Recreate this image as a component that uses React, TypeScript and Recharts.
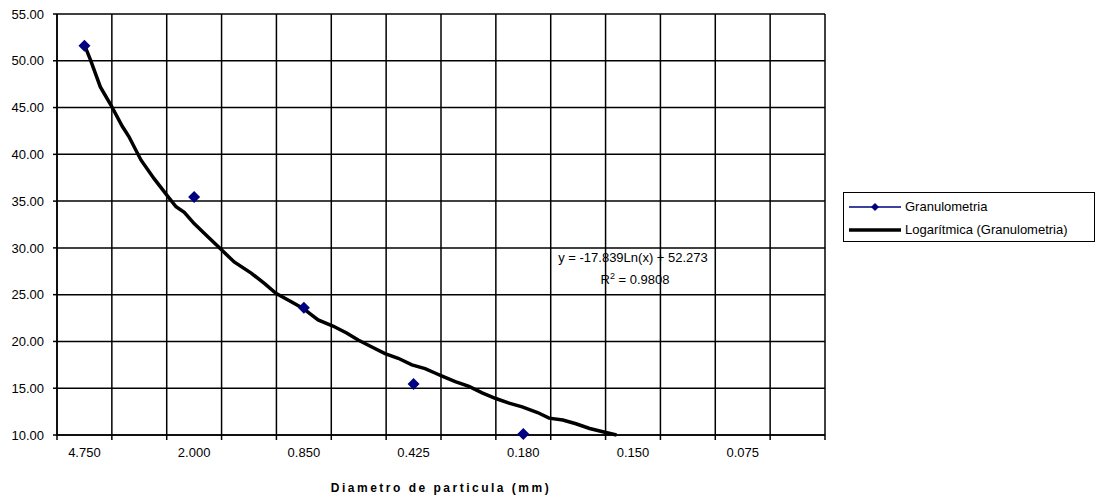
import { ComposedChart, Line, Scatter, XAxis, YAxis, CartesianGrid, Label } from "recharts"

// category labels (one every other slot, Excel style)
const sizes = ["4.750", "2.000", "0.850", "0.425", "0.180", "0.150", "0.075"]
const gridSlots = [0, 1, 2, 3, 4, 5, 6, 7, 8, 9, 10, 11, 12, 13, 14]
const yTicks = [10, 15, 20, 25, 30, 35, 40, 45, 50, 55]

// measured points
const pointX = [0.5, 2.5, 4.5, 6.5, 8.5]
const pointY = [51.6, 35.45, 23.6, 15.45, 10.1]

// trendline
const trendX = [0.5, 0.61, 0.79, 0.98, 1.19, 1.31, 1.53, 1.77, 2.02, 2.17, 2.32, 2.5, 2.75, 2.97, 3.23, 3.54, 3.78, 3.99, 4.27, 4.48, 4.76, 5.03, 5.28, 5.49, 5.74, 5.98, 6.22, 6.47, 6.71, 6.9, 7.02, 7.26, 7.51, 7.75, 8.0, 8.24, 8.48, 8.76, 8.97, 9.22, 9.46, 9.71, 9.95, 10.2]
const trendY = [51.7, 50.1, 47.2, 45.3, 43.0, 41.9, 39.4, 37.4, 35.5, 34.4, 33.8, 32.6, 31.2, 29.95, 28.5, 27.3, 26.2, 25.15, 24.25, 23.55, 22.3, 21.65, 20.9, 20.15, 19.4, 18.7, 18.2, 17.5, 17.1, 16.6, 16.3, 15.7, 15.2, 14.5, 13.9, 13.4, 13.0, 12.4, 11.8, 11.6, 11.2, 10.7, 10.35, 10.0]

const points = pointX.map((x, i) => ({ x, y: pointY[i] }))
const trend = trendX.map((x, i) => ({ x, y: trendY[i] }))

const font = "'Liberation Sans', Arial, sans-serif"
const W = 1101
const H = 498
const margin = { top: 14, right: 276, bottom: 0, left: 0 }
const yAxisW = 57
const halfSlot = (W - margin.right - yAxisW) / (gridSlots.length - 1) / 2

// label sits in the middle of every other slot
const SlotTick = (props: any) => {
  const { x, y, payload } = props
  const v = payload.value
  if (v % 2 !== 0 || v >= 14) return null
  return (
    <text x={x + halfSlot} y={y + 15} textAnchor="middle" fill="#000" fontSize={13} fontFamily={font}>
      {sizes[v / 2]}
    </text>
  )
}

const Diamond = (props: any) => {
  const { cx, cy } = props
  const r = 6
  return <polygon points={`${cx},${cy - r} ${cx + r},${cy} ${cx},${cy + r} ${cx - r},${cy}`} fill="#000080" />
}

function LegendBox() {
  return (
    <div
      style={{
        position: "absolute",
        left: 843,
        top: 192,
        width: 252,
        height: 50,
        boxSizing: "border-box",
        border: "1px solid #000",
        background: "#fff",
        padding: "2px 0 0 5px",
        fontFamily: font,
        fontSize: 13,
        color: "#000",
      }}
    >
      <div style={{ display: "flex", alignItems: "center", height: 23 }}>
        <svg width={52} height={10} style={{ marginRight: 4 }}>
          <line x1={0} y1={5} x2={52} y2={5} stroke="#000080" strokeWidth={1.5} />
          <polygon points="26,1 30,5 26,9 22,5" fill="#000080" />
        </svg>
        Granulometria
      </div>
      <div style={{ display: "flex", alignItems: "center", height: 23 }}>
        <svg width={52} height={10} style={{ marginRight: 4 }}>
          <line x1={0} y1={5} x2={52} y2={5} stroke="#000" strokeWidth={3.5} />
        </svg>
        Logarítmica (Granulometria)
      </div>
    </div>
  )
}

export default function App() {
  return (
    <div style={{ position: "absolute", left: 0, top: 0, width: W, height: H, background: "#fff" }}>
      <ComposedChart width={W} height={H} margin={margin}>
        <CartesianGrid stroke="#000" strokeWidth={1.5} strokeOpacity={1} />
        <XAxis
          type="number"
          dataKey="x"
          domain={[0, 14]}
          ticks={gridSlots}
          interval={0}
          tickSize={5}
          height={H - 435}
          axisLine={{ stroke: "#000", strokeWidth: 1.5 }}
          tickLine={{ stroke: "#000", strokeWidth: 1.5 }}
          tick={<SlotTick />}
        >
          <Label
            value="Diametro de particula (mm)"
            position="insideBottom"
            offset={6}
            style={{ fill: "#000", fontSize: 12, fontWeight: "bold", fontFamily: font, letterSpacing: 2.5 }}
          />
        </XAxis>
        <YAxis
          type="number"
          domain={[10, 55]}
          ticks={yTicks}
          interval={0}
          width={yAxisW}
          tickSize={4}
          tickMargin={9}
          tickFormatter={(v: number) => v.toFixed(2)}
          axisLine={{ stroke: "#000", strokeWidth: 1.5 }}
          tickLine={{ stroke: "#000", strokeWidth: 1.5 }}
          tick={{ fill: "#000", fontSize: 13, fontFamily: font }}
        />
        <Line
          data={trend}
          dataKey="y"
          type="linear"
          stroke="#000"
          strokeWidth={3.5}
          dot={false}
          name="Logarítmica (Granulometria)"
          isAnimationActive={false}
        />
        <Scatter
          data={points}
          dataKey="y"
          fill="#000080"
          shape={<Diamond />}
          name="Granulometria"
          isAnimationActive={false}
        />
      </ComposedChart>
      <LegendBox />
      <div
        style={{
          position: "absolute",
          left: 533,
          top: 247,
          width: 200,
          textAlign: "center",
          fontFamily: font,
          fontSize: 13,
          color: "#000",
          lineHeight: "22px",
        }}
      >
        <div>y = -17.839Ln(x) + 52.273</div>
        <div style={{ paddingLeft: 4 }}>
          R<sup style={{ fontSize: 9, lineHeight: 0 }}>2</sup> = 0.9808
        </div>
      </div>
    </div>
  )
}
